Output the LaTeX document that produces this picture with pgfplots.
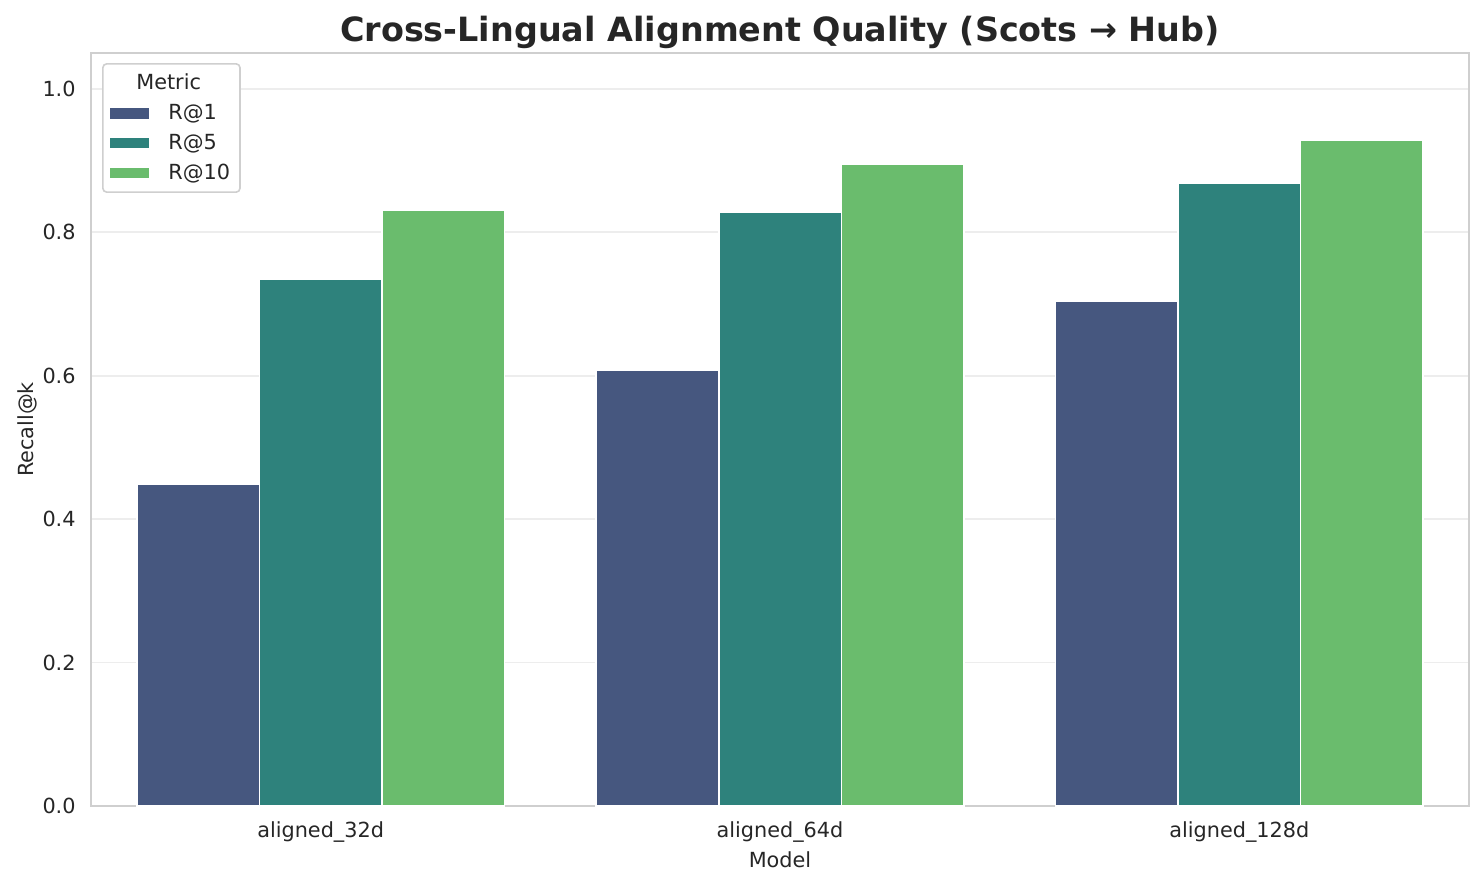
\documentclass[border=0pt]{standalone}
\usepackage{fontspec}
\setmainfont{DejaVu Sans}
\usepackage{pgfplots}
\pgfplotsset{compat=1.18}
\definecolor{cA}{HTML}{46577F}
\definecolor{cB}{HTML}{2E827C}
\definecolor{cC}{HTML}{6ABC6D}
\definecolor{txt}{HTML}{262626}
\definecolor{frame}{HTML}{CFCFCF}
\definecolor{gridc}{HTML}{EDEDED}
\newcommand{\tk}{\fontsize{10.4}{12.5}\selectfont}
\begin{document}
\begin{tikzpicture}
\path[use as bounding box] (0,0) rectangle (742pt,442.5pt);
\begin{axis}[
  at={(45.5pt,39.5pt)}, anchor=south west,
  width=689pt, height=376.5pt, scale only axis,
  xmin=-0.5, xmax=2.5, ymin=0, ymax=1.05,
  xtick={0,1,2},
  xticklabels={aligned\_32d,aligned\_64d,aligned\_128d},
  ytick={0,0.2,0.4,0.6,0.8,1.0},
  major tick length=0pt,
  axis line style={frame, line width=1pt},
  ymajorgrids, grid style={gridc, line width=0.8pt},
  /pgf/number format/.cd, fixed, fixed zerofill, precision=1, assume math mode=true,
  /pgfplots/.cd,
  ticklabel style={font=\tk, text=txt},
  xticklabel style={anchor=north, inner sep=0pt, yshift=-7.5pt},
  yticklabel style={anchor=east, inner sep=0pt, xshift=-7.5pt},
  xlabel={Model}, ylabel={Recall@k},
  xlabel style={font=\tk, text=txt, at={(axis description cs:0.5,-0.0717)}, anchor=center},
  ylabel style={font=\tk, text=txt, at={(axis description cs:-0.0465,0.5)}, anchor=center},
  ybar=0pt, bar width=0.2667,
  legend style={at={(0.008,0.9867)}, anchor=north west, draw=frame, rounded corners=2pt,
    line width=0.8pt, font=\tk, text=txt, inner xsep=3pt, inner ysep=3pt,
    row sep=1.8pt, column sep=7pt},
  legend cell align=left,
  legend image code/.code={\fill[#1, sharp corners] (0pt,-3pt) rectangle (20pt,3pt);},
]
\addlegendimage{empty legend}
\addlegendentry{\hspace{-16pt}Metric}
\addplot[fill=cA, draw=white, line width=0.75pt, bar shift=-0.2667] coordinates {(0,0.449) (1,0.607) (2,0.704)};
\addlegendentry{R@1}
\addplot[fill=cB, draw=white, line width=0.75pt, bar shift=0] coordinates {(0,0.735) (1,0.828) (2,0.869)};
\addlegendentry{R@5}
\addplot[fill=cC, draw=white, line width=0.75pt, bar shift=0.2667] coordinates {(0,0.831) (1,0.895) (2,0.929)};
\addlegendentry{R@10}
\end{axis}
\node[font=\fontsize{16.7}{20}\selectfont\bfseries, text=txt, anchor=center, inner sep=0pt] at (390pt,426.5pt) {Cross-Lingual Alignment Quality (Scots → Hub)};
\end{tikzpicture}
\end{document}
